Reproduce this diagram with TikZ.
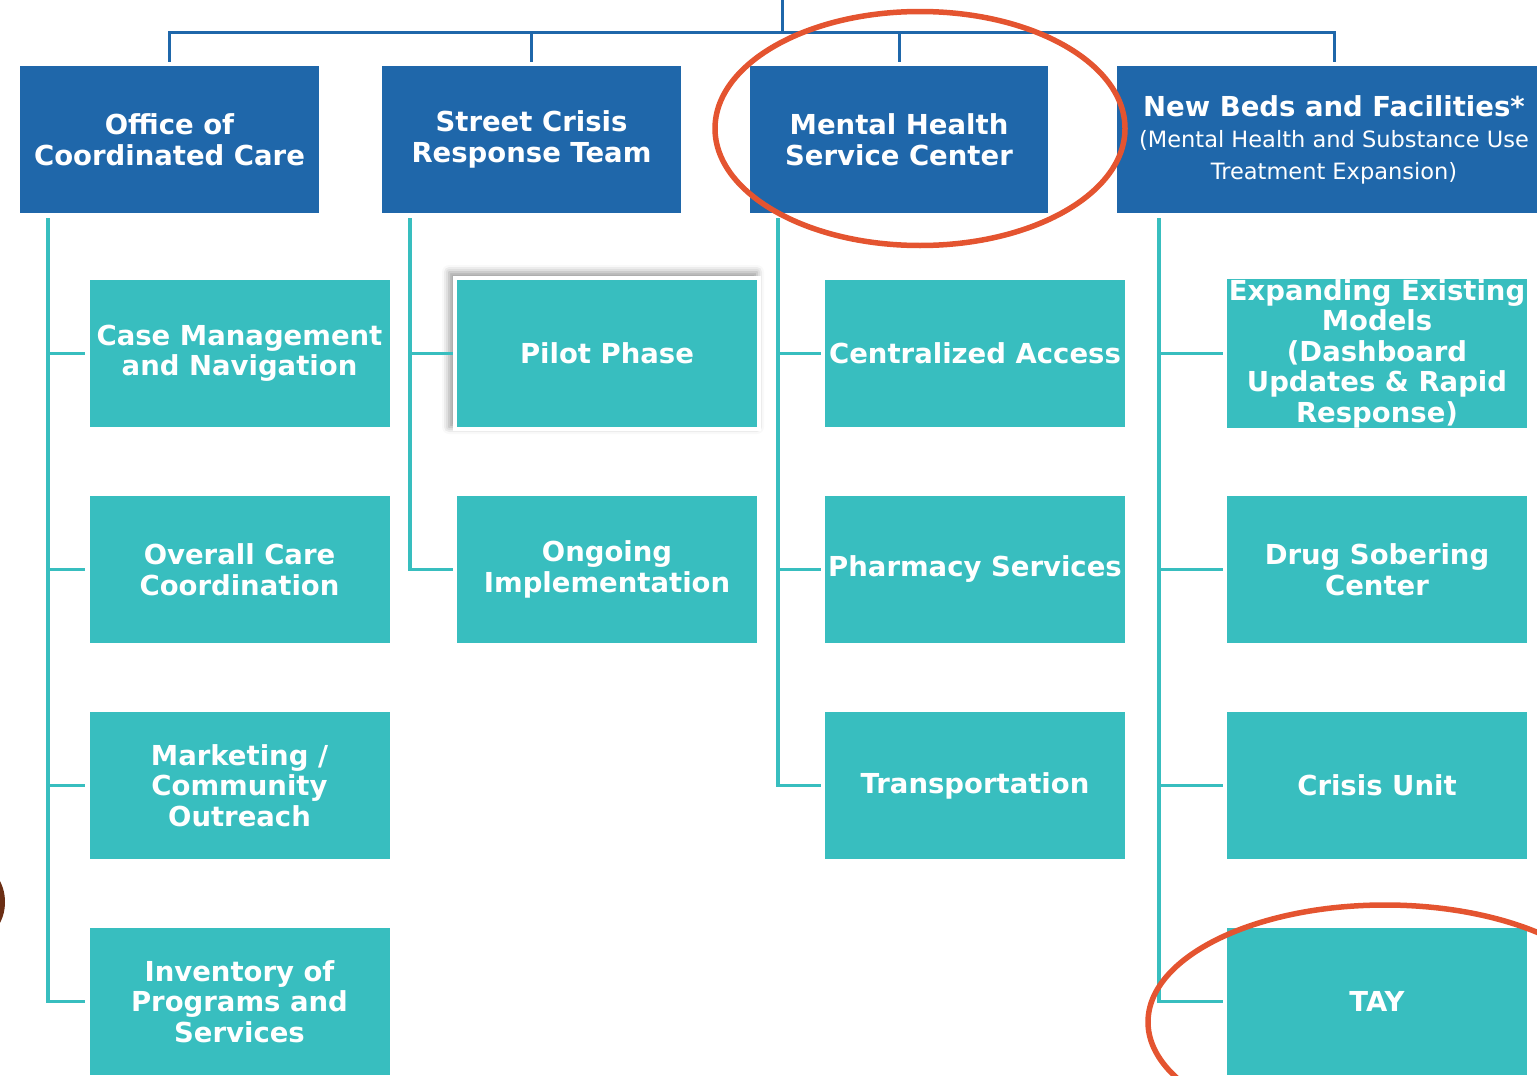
\documentclass[tikz,border=0pt]{standalone}
\usepackage{fontspec}
\setmainfont{DejaVu Sans}
\usetikzlibrary{shadows.blur}
\definecolor{hblue}{HTML}{1F67AA}
\definecolor{hteal}{HTML}{38BEBF}
\definecolor{horange}{HTML}{E45430}
\definecolor{hbrown}{HTML}{6B2E14}
\begin{document}
\begin{tikzpicture}[x=1pt,y=-1pt,
  topbox/.style={fill=hblue, text=white, minimum width=299pt, minimum height=147pt, inner sep=0pt, align=center, font=\fontsize{27.5}{31}\selectfont\bfseries},
  childbox/.style={fill=hteal, text=white, minimum width=300pt, minimum height=147pt, inner sep=0pt, align=center, font=\fontsize{27.5}{30.5}\selectfont\bfseries},
  bus/.style={draw=hblue, line width=3pt},
  tline/.style={draw=hteal, line width=3.5pt},
  ring/.style={draw=horange, line width=5.5pt}]
\useasboundingbox (0,0) rectangle (1537,1076);
\clip (0,0) rectangle (1537,1076);

% brown fragment at the left edge
\fill[hbrown] (-22,902) ellipse [x radius=27pt, y radius=36pt];

% top boxes
\node[topbox] (occ) at (169.5,139.5) {Office of\\Coordinated Care};
\node[topbox] (scrt) at (531.5,139.5) {\raisebox{-2pt}{Street Crisis}\\\raisebox{-2pt}{Response Team}};
\node[topbox, minimum width=298pt] (mhsc) at (899,139.5) {Mental Health\\Service Center};
\node[topbox, minimum width=434pt, font=\fontsize{22.5}{31.5}\selectfont] (nbf) at (1334,139.5)
  {{\fontsize{27.5}{31.5}\selectfont\bfseries New Beds and Facilities*}\\(Mental Health and Substance Use\\Treatment Expansion)};

% bus
\coordinate (top) at (782,0);
\coordinate (bus) at (782,32);
\draw[bus] (top) -- (bus);
\foreach \b in {occ,scrt,mhsc,nbf}
  \draw[bus, line join=miter] ([yshift=4pt]\b.north) |- (bus);

% column 1
\node[childbox] (c11) at (239.5,353.5) {Case Management\\and Navigation};
\node[childbox] (c12) at (239.5,569.5) {Overall Care\\Coordination};
\node[childbox] (c13) at (239.5,785.5) {Marketing /\\Community\\Outreach};
\node[childbox] (c14) at (239.5,1001.5) {Inventory of\\Programs and\\Services};

% column 2
\node[fill=white, minimum width=308pt, minimum height=155pt, inner sep=0pt,
  blur shadow={shadow xshift=-4pt, shadow yshift=4pt, shadow blur radius=7pt, shadow opacity=40}] (pilotbg) at (607,353.5) {};
\node[childbox] (c21) at (607,353.5) {Pilot Phase};
\node[childbox] (c22) at (607,569.5) {Ongoing\\Implementation};

% column 3
\node[childbox] (c31) at (975,353.5) {Centralized Access};
\node[childbox] (c32) at (975,569.5) {Pharmacy Services};
\node[childbox] (c33) at (975,785.5) {Transportation};

% column 4
\node[childbox] (c41) at (1377,353.5) {Expanding Existing\\Models\\(Dashboard\\Updates \& Rapid\\Response)};
\node[childbox] (c42) at (1377,569.5) {Drug Sobering\\Center};
\node[childbox] (c43) at (1377,785.5) {Crisis Unit};
\node[childbox] (c44) at (1377,1001.5) {TAY};

% teal connectors
\foreach \c in {c11,c12,c13,c14}
  \draw[tline] ([xshift=28pt,yshift=-5pt]occ.south west) |- ([xshift=-4pt]\c.west);
\draw[tline] ([xshift=28pt,yshift=-5pt]scrt.south west) |- (pilotbg.west);
\draw[tline] ([xshift=28pt,yshift=-5pt]scrt.south west) |- ([xshift=-4pt]c22.west);
\foreach \c in {c31,c32,c33}
  \draw[tline] ([xshift=28pt,yshift=-5pt]mhsc.south west) |- ([xshift=-4pt]\c.west);
\foreach \c in {c41,c42,c43,c44}
  \draw[tline] ([xshift=42pt,yshift=-5pt]nbf.south west) |- ([xshift=-4pt]\c.west);

% highlight rings
\draw[ring] (920,128.5) ellipse [x radius=205pt, y radius=117pt];
\draw[ring] (1385,1022) ellipse [x radius=237pt, y radius=117pt];
\end{tikzpicture}
\end{document}
